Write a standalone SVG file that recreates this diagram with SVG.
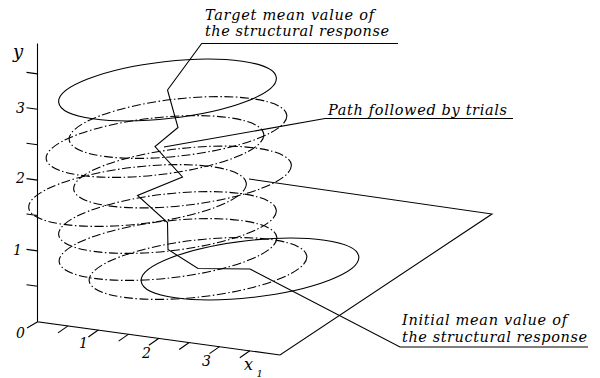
<svg xmlns="http://www.w3.org/2000/svg" width="600" height="378" viewBox="0 0 600 378">
<style>
.ln{fill:none;stroke:#000;stroke-width:1.1;stroke-linejoin:miter}
.sol{fill:none;stroke:#000;stroke-width:1.1}
.dd{fill:none;stroke:#000;stroke-width:1.1;stroke-dasharray:9 2.5 1.5 2.5}
.lb{font-family:"DejaVu Serif","Liberation Serif",serif;font-style:italic;font-size:14.5px;fill:#000}
.num{font-family:"DejaVu Serif","Liberation Serif",serif;font-style:italic;font-size:14px;fill:#000}
</style>
<rect width="600" height="378" fill="#fff"/>
<g id="axes">
<path class="ln" d="M37.5,43.5 V321.7 L280,355 L492,214 L249,179 M37.7,321.7 L27,328"/>
<path class="ln" d="M37.5,286.3 l-11,-1.5 M37.5,250.9 l-11,-1.5 M37.5,215.5 l-11,-1.5 M37.5,180.1 l-11,-1.5 M37.5,144.7 l-11,-1.5 M37.5,109.3 l-11,-1.5 M37.5,73.9 l-11,-1.5"/>
<path class="ln" d="M68,325.85 l-10,7 M98.3,330 l-10,7 M128.6,334.15 l-10,7 M158.9,338.3 l-10,7 M189.2,342.45 l-10,7 M219.5,346.6 l-10,7 M249.8,350.75 l-10,7"/>
<text class="num" x="13" y="58" style="font-size:18px">y</text>
<text class="num" x="16" y="113">3</text>
<text class="num" x="16" y="183">2</text>
<text class="num" x="13" y="255">1</text>
<text class="num" x="16" y="338">0</text>
<text class="num" x="79" y="348">1</text>
<text class="num" x="142" y="358">2</text>
<text class="num" x="202" y="366">3</text>
<text class="num" x="244" y="370" style="font-size:16px">x</text>
<text class="num" x="256.5" y="376.5" style="font-size:10px">1</text>
</g>
<g id="ellipses">
<ellipse class="sol" cx="167.5" cy="90" rx="109.5" ry="28.5" transform="rotate(-6.5 167.5 90)"/>
<ellipse class="dd" cx="178" cy="127.5" rx="109.5" ry="28.5" transform="rotate(-6.5 178 127.5)"/>
<ellipse class="dd" cx="155" cy="146.5" rx="109.5" ry="28.5" transform="rotate(-6.5 155 146.5)"/>
<ellipse class="dd" cx="182.5" cy="177" rx="109.5" ry="28.5" transform="rotate(-6.5 182.5 177)"/>
<ellipse class="dd" cx="137.5" cy="195.5" rx="109.5" ry="28.5" transform="rotate(-6.5 137.5 195.5)"/>
<ellipse class="dd" cx="167.5" cy="222.5" rx="109.5" ry="28.5" transform="rotate(-6.5 167.5 222.5)"/>
<ellipse class="dd" cx="168" cy="249.5" rx="109.5" ry="28.5" transform="rotate(-6.5 168 249.5)"/>
<ellipse class="dd" cx="198" cy="268.5" rx="109.5" ry="28.5" transform="rotate(-6.5 198 268.5)"/>
<ellipse class="sol" cx="250" cy="269" rx="109.5" ry="28.5" transform="rotate(-6.5 250 269)"/>
</g>
<g id="connectors">
<polyline class="ln" points="167.5,90 178,127.5 155,146.5 182.5,177 137.5,195.5 167.5,222.5 168,249.5 198,268.5 250,269"/>
<polyline class="ln" points="398,43.5 201.7,43.5 167.5,90"/>
<polyline class="ln" points="164,147 325,118.5 513,118.5"/>
<polyline class="ln" points="250,269 400,347 588,347"/>
</g>
<g id="label-target">
<text class="lb" x="205" y="19.5" textLength="169" lengthAdjust="spacing">Target mean value of</text>
<text class="lb" x="205" y="35.5" textLength="184" lengthAdjust="spacing">the structural response</text>
</g>
<g id="label-path">
<text class="lb" x="328" y="115" textLength="179" lengthAdjust="spacing">Path followed by trials</text>
</g>
<g id="label-initial">
<text class="lb" x="402" y="325" textLength="165" lengthAdjust="spacing">Initial mean value of</text>
<text class="lb" x="402" y="341.5" textLength="185" lengthAdjust="spacing">the structural response</text>
</g>
</svg>
